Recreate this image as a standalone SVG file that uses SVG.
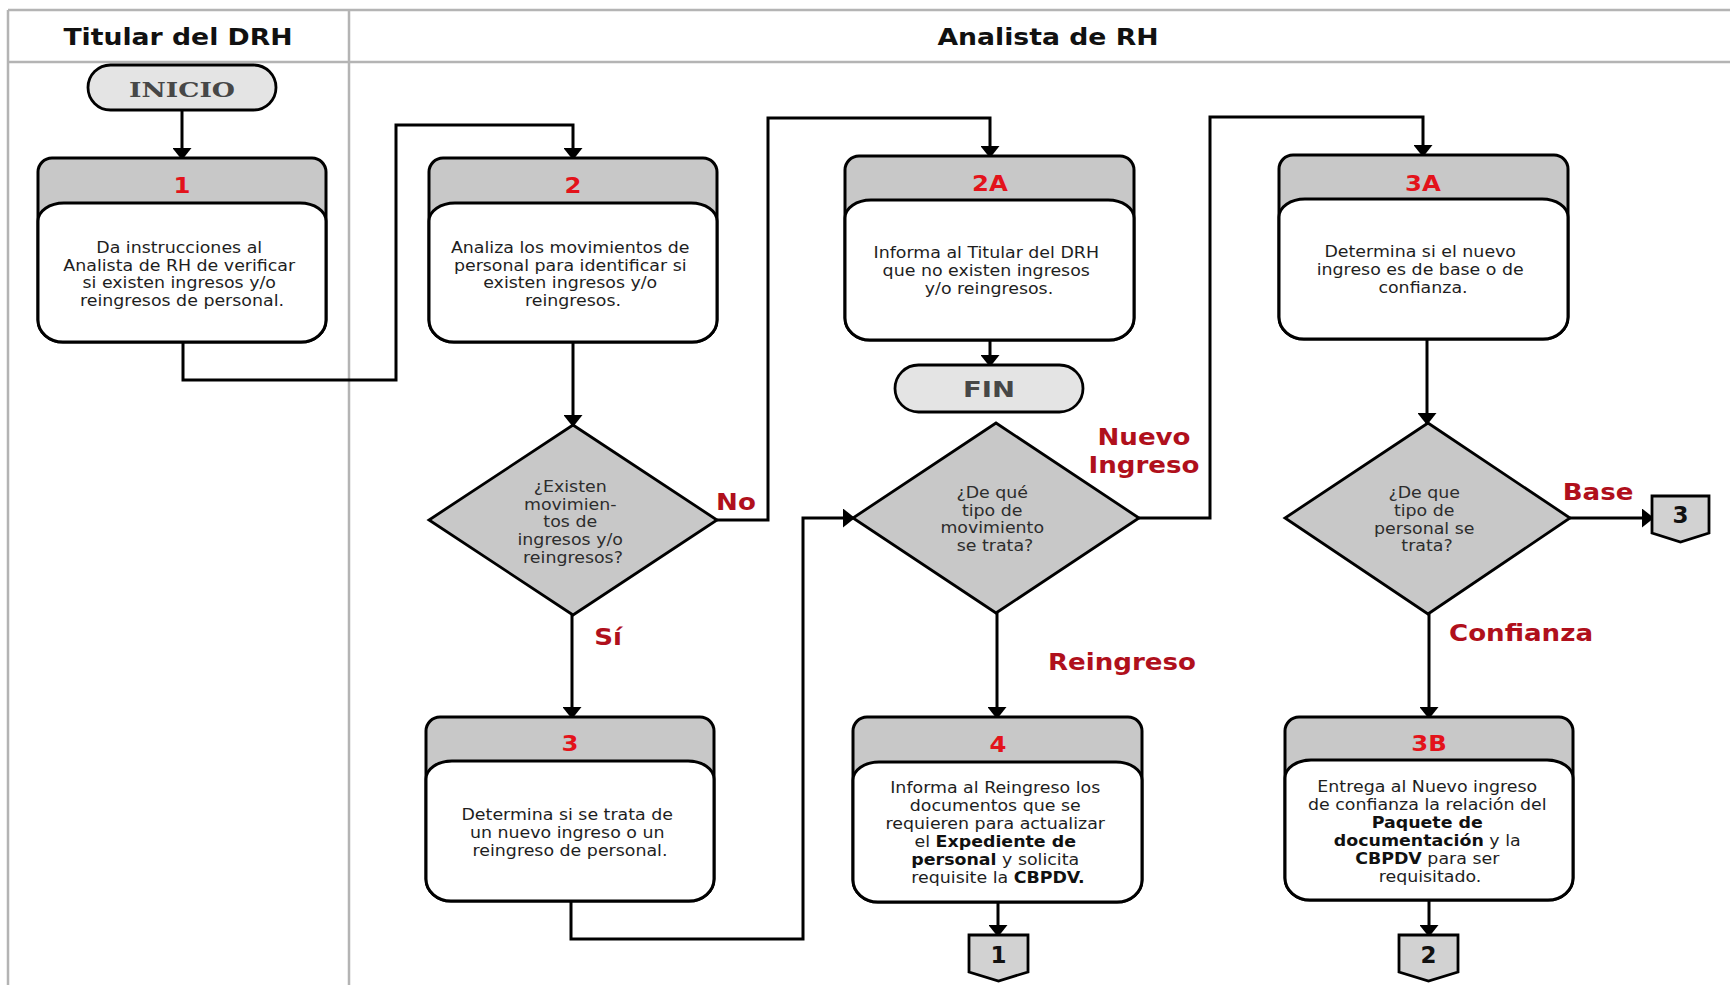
<svg xmlns="http://www.w3.org/2000/svg" width="1730" height="985" viewBox="0 0 1730 985">
  <defs>
    <marker id="arrow" viewBox="0 0 12 19" markerWidth="12" markerHeight="19" refX="10" refY="9.5" orient="auto" markerUnits="userSpaceOnUse">
      <path d="M0,0 L12,9.5 L0,19 Z" fill="#000"/>
    </marker>
    <style>
      .lane { stroke: #b4b4b4; stroke-width: 2.5; fill: none; }
      .hd { font-family: "DejaVu Sans", Verdana, sans-serif; font-weight: bold; font-size: 23px; fill: #111; text-anchor: middle; }
      .hdr { fill: #c8c8c8; stroke: #000; stroke-width: 3; }
      .body { fill: #fff; stroke: #000; stroke-width: 3; }
      .dec { fill: #c8c8c8; stroke: #000; stroke-width: 2.8; }
      .term { fill: #e4e4e4; stroke: #000; stroke-width: 2.8; }
      .off { fill: #d2d2d2; stroke: #000; stroke-width: 2.8; }
      .t { font-family: "DejaVu Sans", Verdana, sans-serif; font-size: 15px; fill: #1e1e1e; text-anchor: middle; }
      .t tspan.b { font-weight: bold; fill: #111; }
      .dt { font-family: "DejaVu Sans", Verdana, sans-serif; font-size: 15px; fill: #2d2d2d; text-anchor: middle; }
      .num { font-family: "DejaVu Sans", Verdana, sans-serif; font-weight: bold; font-size: 21px; fill: #e3131b; text-anchor: middle; }
      .lbl { font-family: "DejaVu Sans", Verdana, sans-serif; font-weight: bold; font-size: 22.5px; fill: #b0101c; text-anchor: middle; }
      .opn { font-family: "DejaVu Sans", Verdana, sans-serif; font-weight: bold; font-size: 23px; fill: #111; text-anchor: middle; }
      .tt { font-weight: bold; font-size: 21px; fill: #474747; text-anchor: middle; }
      .conn { fill: none; stroke: #000; stroke-width: 3; marker-end: url(#arrow); }
      .conn-plain { fill: none; stroke: #000; stroke-width: 3; }
    </style>
  </defs>

  <rect x="0" y="0" width="1730" height="985" fill="#fff"/>

  <!-- swimlane frame -->
  <g id="lanes">
    <line class="lane" x1="8" y1="10" x2="1730" y2="10"/>
    <line class="lane" x1="8" y1="62" x2="1730" y2="62"/>
    <line class="lane" x1="8" y1="10" x2="8" y2="985"/>
    <line class="lane" x1="349" y1="10" x2="349" y2="985"/>
    <text class="hd" transform="translate(178 0) scale(1.16 1)" x="0" y="45">Titular del DRH</text>
    <text class="hd" transform="translate(1048 0) scale(1.16 1)" x="0" y="45">Analista de RH</text>
  </g>

  <!-- connectors -->
  <g id="connectors">
    <path class="conn" d="M182,110 V158"/>
    <path class="conn" d="M183,342 V380 H396 V125 H573 V158"/>
    <path class="conn" d="M573,342 V425"/>
    <path class="conn" d="M717,520 H768 V118 H990 V156"/>
    <path class="conn" d="M990,340 V365"/>
    <path class="conn" d="M572,615 V717"/>
    <path class="conn" d="M571,901 V939 H803 V518 H853"/>
    <path class="conn" d="M1139,518 H1210 V117 H1423 V155"/>
    <path class="conn" d="M997,613 V717"/>
    <path class="conn" d="M998,902 V935"/>
    <path class="conn" d="M1427,339 V423"/>
    <path class="conn" d="M1570,518 H1652"/>
    <path class="conn" d="M1429,614 V717"/>
    <path class="conn" d="M1429,900 V935"/>
    <text class="lbl" transform="translate(736 0) scale(1.16 1)" x="0" y="510">No</text>
    <text class="lbl" transform="translate(608 0) scale(1.16 1)" x="0" y="645">Sí</text>
    <text class="lbl" transform="translate(1144 0) scale(1.16 1)" x="0" y="445">Nuevo</text>
    <text class="lbl" transform="translate(1144 0) scale(1.16 1)" x="0" y="473">Ingreso</text>
    <text class="lbl" transform="translate(1122 0) scale(1.16 1)" x="0" y="670">Reingreso</text>
    <text class="lbl" transform="translate(1598 0) scale(1.16 1)" x="0" y="500">Base</text>
    <text class="lbl" transform="translate(1521 0) scale(1.16 1)" x="0" y="641">Confianza</text>
  </g>

  <!-- start -->
  <g id="inicio">
    <rect class="term" x="88" y="65" width="188" height="45" rx="22.5"/>
    <text class="tt" style="font-family: 'DejaVu Serif', 'Liberation Serif', serif;" x="182" y="97" textLength="106" lengthAdjust="spacingAndGlyphs">INICIO</text>
  </g>

  <!-- step 1 -->
  <g id="step1">
    <path class="hdr" d="M52,158 H312 A14,14 0 0 1 326,172 V320 A25,22 0 0 1 301,342 H63 A25,22 0 0 1 38,320 V172 A14,14 0 0 1 52,158 Z"/>
    <path class="body" d="M38,221 A26,18 0 0 1 64,203 H300 A26,18 0 0 1 326,221 V320 A25,22 0 0 1 301,342 H63 A25,22 0 0 1 38,320 Z"/>
    <text class="num" transform="translate(182 0) scale(1.16 1)" x="0" y="193">1</text>
    <text class="t" transform="translate(182 0) scale(1.16 1)">
      <tspan x="0" y="253">Da instrucciones al</tspan>
      <tspan x="0" y="271">Analista de RH de verificar</tspan>
      <tspan x="0" y="288.5">si existen ingresos y/o</tspan>
      <tspan x="0" y="306">reingresos de personal.</tspan>
    </text>
  </g>

  <!-- step 2 -->
  <g id="step2">
    <path class="hdr" d="M443,158 H703 A14,14 0 0 1 717,172 V320 A25,22 0 0 1 692,342 H454 A25,22 0 0 1 429,320 V172 A14,14 0 0 1 443,158 Z"/>
    <path class="body" d="M429,221 A26,18 0 0 1 455,203 H691 A26,18 0 0 1 717,221 V320 A25,22 0 0 1 692,342 H454 A25,22 0 0 1 429,320 Z"/>
    <text class="num" transform="translate(573 0) scale(1.16 1)" x="0" y="193">2</text>
    <text class="t" transform="translate(573 0) scale(1.16 1)">
      <tspan x="0" y="253">Analiza los movimientos de</tspan>
      <tspan x="0" y="271">personal para identificar si</tspan>
      <tspan x="0" y="288.5">existen ingresos y/o</tspan>
      <tspan x="0" y="306">reingresos.</tspan>
    </text>
  </g>

  <!-- decision: any movements? -->
  <g id="decision1">
    <polygon class="dec" points="573,425 717,520 573,615 429,520"/>
    <text class="dt" transform="translate(573 0) scale(1.16 1)">
      <tspan x="0" y="492">¿Existen</tspan>
      <tspan x="0" y="510">movimien-</tspan>
      <tspan x="0" y="527">tos de</tspan>
      <tspan x="0" y="545">ingresos y/o</tspan>
      <tspan x="0" y="563">reingresos?</tspan>
    </text>
  </g>

  <!-- step 2A -->
  <g id="step2A">
    <path class="hdr" d="M859,156 H1120 A14,14 0 0 1 1134,170 V318 A25,22 0 0 1 1109,340 H870 A25,22 0 0 1 845,318 V170 A14,14 0 0 1 859,156 Z"/>
    <path class="body" d="M845,218 A26,18 0 0 1 871,200 H1108 A26,18 0 0 1 1134,218 V318 A25,22 0 0 1 1109,340 H870 A25,22 0 0 1 845,318 Z"/>
    <text class="num" transform="translate(990 0) scale(1.16 1)" x="0" y="191">2A</text>
    <text class="t" transform="translate(989 0) scale(1.16 1)">
      <tspan x="0" y="258">Informa al Titular del DRH</tspan>
      <tspan x="0" y="276">que no existen ingresos</tspan>
      <tspan x="0" y="294">y/o reingresos.</tspan>
    </text>
  </g>

  <!-- end -->
  <g id="fin">
    <rect class="term" x="895" y="365" width="188" height="47" rx="23.5"/>
    <text class="tt" style="font-family: 'DejaVu Sans', Verdana, sans-serif;" x="989" y="397" textLength="52" lengthAdjust="spacingAndGlyphs">FIN</text>
  </g>

  <!-- step 3 -->
  <g id="step3">
    <path class="hdr" d="M440,717 H700 A14,14 0 0 1 714,731 V879 A25,22 0 0 1 689,901 H451 A25,22 0 0 1 426,879 V731 A14,14 0 0 1 440,717 Z"/>
    <path class="body" d="M426,779 A26,18 0 0 1 452,761 H688 A26,18 0 0 1 714,779 V879 A25,22 0 0 1 689,901 H451 A25,22 0 0 1 426,879 Z"/>
    <text class="num" transform="translate(570 0) scale(1.16 1)" x="0" y="751">3</text>
    <text class="t" transform="translate(570 0) scale(1.16 1)">
      <tspan x="0" y="820">Determina si se trata de</tspan>
      <tspan x="0" y="838">un nuevo ingreso o un</tspan>
      <tspan x="0" y="856">reingreso de personal.</tspan>
    </text>
  </g>

  <!-- decision: movement type -->
  <g id="decision2">
    <polygon class="dec" points="996,423 1139,518 996,613 853,518"/>
    <text class="dt" transform="translate(995 0) scale(1.16 1)">
      <tspan x="0" y="498">¿De qué</tspan>
      <tspan x="0" y="516">tipo de</tspan>
      <tspan x="0" y="533">movimiento</tspan>
      <tspan x="0" y="551">se trata?</tspan>
    </text>
  </g>

  <!-- step 4 -->
  <g id="step4">
    <path class="hdr" d="M867,717 H1128 A14,14 0 0 1 1142,731 V880 A25,22 0 0 1 1117,902 H878 A25,22 0 0 1 853,880 V731 A14,14 0 0 1 867,717 Z"/>
    <path class="body" d="M853,780 A26,18 0 0 1 879,762 H1116 A26,18 0 0 1 1142,780 V880 A25,22 0 0 1 1117,902 H878 A25,22 0 0 1 853,880 Z"/>
    <text class="num" transform="translate(998 0) scale(1.16 1)" x="0" y="752">4</text>
    <text class="t" transform="translate(998 0) scale(1.16 1)">
      <tspan x="0" y="793">Informa al Reingreso los</tspan>
      <tspan x="0" y="811">documentos que se</tspan>
      <tspan x="0" y="829">requieren para actualizar</tspan>
      <tspan x="0" y="847">el <tspan class="b">Expediente de</tspan></tspan>
      <tspan x="0" y="865"><tspan class="b">personal</tspan> y solicita</tspan>
      <tspan x="0" y="883">requisite la <tspan class="b">CBPDV.</tspan></tspan>
    </text>
  </g>

  <!-- off-page connector 1 -->
  <g id="offpage1">
    <polygon class="off" points="969,935 1028,935 1028,972 998.5,981 969,972"/>
    <text class="opn" x="998.5" y="963">1</text>
  </g>

  <!-- step 3A -->
  <g id="step3A">
    <path class="hdr" d="M1293,155 H1554 A14,14 0 0 1 1568,169 V317 A25,22 0 0 1 1543,339 H1304 A25,22 0 0 1 1279,317 V169 A14,14 0 0 1 1293,155 Z"/>
    <path class="body" d="M1279,217 A26,18 0 0 1 1305,199 H1542 A26,18 0 0 1 1568,217 V317 A25,22 0 0 1 1543,339 H1304 A25,22 0 0 1 1279,317 Z"/>
    <text class="num" transform="translate(1423 0) scale(1.16 1)" x="0" y="191">3A</text>
    <text class="t" transform="translate(1423 0) scale(1.16 1)">
      <tspan x="0" y="257">Determina si el nuevo</tspan>
      <tspan x="0" y="275">ingreso es de base o de</tspan>
      <tspan x="0" y="293">confianza.</tspan>
    </text>
  </g>

  <!-- decision: staff type -->
  <g id="decision3">
    <polygon class="dec" points="1428,423 1570,518 1428,614 1285,518"/>
    <text class="dt" transform="translate(1427 0) scale(1.16 1)">
      <tspan x="0" y="498">¿De que</tspan>
      <tspan x="0" y="516">tipo de</tspan>
      <tspan x="0" y="534">personal se</tspan>
      <tspan x="0" y="551">trata?</tspan>
    </text>
  </g>

  <!-- off-page connector 3 -->
  <g id="offpage3">
    <polygon class="off" points="1652,496 1709,496 1709,533 1680.5,542 1652,533"/>
    <text class="opn" x="1680.5" y="523">3</text>
  </g>

  <!-- step 3B -->
  <g id="step3B">
    <path class="hdr" d="M1299,717 H1559 A14,14 0 0 1 1573,731 V878 A25,22 0 0 1 1548,900 H1310 A25,22 0 0 1 1285,878 V731 A14,14 0 0 1 1299,717 Z"/>
    <path class="body" d="M1285,778 A26,18 0 0 1 1311,760 H1547 A26,18 0 0 1 1573,778 V878 A25,22 0 0 1 1548,900 H1310 A25,22 0 0 1 1285,878 Z"/>
    <text class="num" transform="translate(1429 0) scale(1.16 1)" x="0" y="751">3B</text>
    <text class="t" transform="translate(1430 0) scale(1.16 1)">
      <tspan x="0" y="792">Entrega al Nuevo ingreso</tspan>
      <tspan x="0" y="810">de confianza la relación del</tspan>
      <tspan x="0" y="828" class="b">Paquete de</tspan>
      <tspan x="0" y="846"><tspan class="b">documentación</tspan> y la</tspan>
      <tspan x="0" y="864"><tspan class="b">CBPDV</tspan> para ser</tspan>
      <tspan x="0" y="882">requisitado.</tspan>
    </text>
  </g>

  <!-- off-page connector 2 -->
  <g id="offpage2">
    <polygon class="off" points="1399,935 1458,935 1458,972 1428.5,981 1399,972"/>
    <text class="opn" x="1428.5" y="963">2</text>
  </g>
</svg>
